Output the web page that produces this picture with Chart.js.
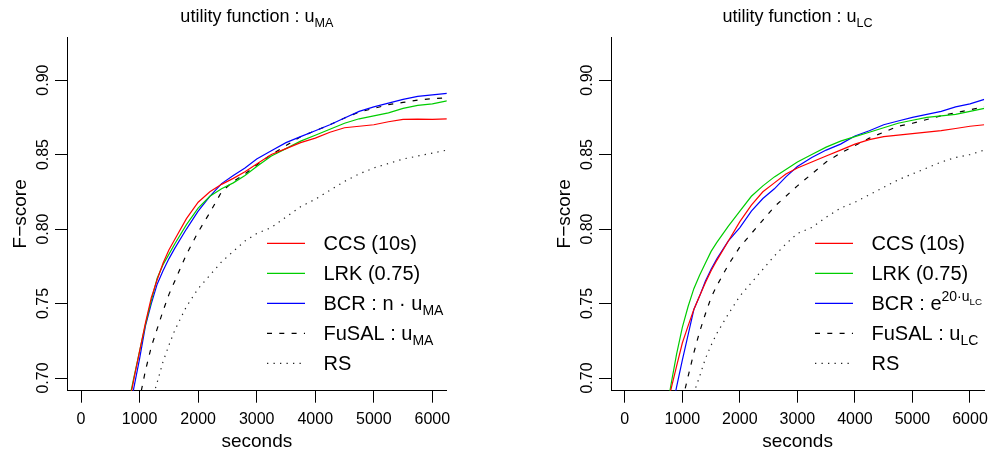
<!DOCTYPE html>
<html><head><meta charset="utf-8">
<script src="https://cdn.jsdelivr.net/npm/chart.js@4/dist/chart.umd.min.js"></script>
<style>
html,body{margin:0;padding:0;background:#fff;width:995px;height:452px;overflow:hidden}
.p{position:absolute;top:0;height:452px}
</style></head><body>
<div class="p" style="left:0;width:470px"><canvas id="c1"></canvas></div>
<div class="p" style="left:544px;width:451px"><canvas id="c2"></canvas></div>
<script>
// ---------- data ----------
const seconds = [700, 800, 900, 1000, 1100, 1200, 1300, 1400, 1500, 1600, 1800, 2000, 2200, 2400, 2600, 2800, 3000, 3250, 3500, 3750, 4000, 4250, 4500, 4750, 5000, 5250, 5500, 5750, 6000, 6250];

// utility function u_MA (left panel)
const ccsMA   = [0.655,0.678,0.699,0.718,0.737,0.754,0.766,0.777,0.786,0.793,0.807,0.818,0.825,0.830,0.834,0.8385,0.8437,0.850,0.854,0.858,0.861,0.865,0.868,0.869,0.870,0.872,0.8736,0.8738,0.8736,0.874];
const lrkMA   = [0.660,0.681,0.700,0.718,0.736,0.752,0.767,0.776,0.783,0.790,0.803,0.814,0.822,0.827,0.831,0.836,0.842,0.849,0.854,0.859,0.863,0.867,0.871,0.874,0.876,0.878,0.881,0.883,0.884,0.886];
const bcrMA   = [0.650,0.672,0.693,0.713,0.735,0.750,0.763,0.772,0.780,0.787,0.800,0.812,0.822,0.8305,0.836,0.841,0.847,0.8525,0.858,0.862,0.866,0.870,0.8745,0.879,0.882,0.8845,0.887,0.889,0.890,0.891];
const fusalMA = [0.610,0.637,0.662,0.686,0.705,0.721,0.733,0.745,0.756,0.765,0.783,0.798,0.811,0.825,0.832,0.837,0.843,0.850,0.856,0.862,0.866,0.870,0.8745,0.8785,0.881,0.8835,0.885,0.8865,0.8875,0.888];
const rsMA    = [0.600,0.620,0.640,0.655,0.670,0.684,0.697,0.711,0.722,0.732,0.748,0.760,0.769,0.778,0.785,0.792,0.797,0.801,0.808,0.815,0.820,0.826,0.832,0.837,0.841,0.844,0.847,0.849,0.851,0.853];

// utility function u_LC (right panel)
const ccsLC   = [0.675,0.692,0.708,0.7235,0.735,0.746,0.755,0.764,0.772,0.779,0.792,0.805,0.816,0.825,0.831,0.837,0.841,0.845,0.849,0.853,0.857,0.860,0.862,0.863,0.864,0.865,0.866,0.8675,0.869,0.870];
const lrkLC   = [0.672,0.695,0.716,0.734,0.748,0.760,0.769,0.777,0.785,0.791,0.802,0.812,0.822,0.829,0.835,0.840,0.845,0.850,0.855,0.859,0.862,0.865,0.868,0.871,0.873,0.875,0.876,0.877,0.879,0.881];
const bcrLC   = [0.655,0.675,0.694,0.712,0.729,0.746,0.755,0.765,0.773,0.780,0.792,0.801,0.812,0.8205,0.827,0.835,0.842,0.848,0.853,0.857,0.8625,0.866,0.870,0.8725,0.875,0.877,0.879,0.882,0.884,0.887];
const fusalLC = [0.620,0.645,0.668,0.685,0.701,0.717,0.731,0.743,0.754,0.762,0.776,0.788,0.797,0.806,0.815,0.822,0.829,0.837,0.845,0.851,0.856,0.861,0.865,0.869,0.871,0.8735,0.876,0.878,0.880,0.882];
const rsLC    = [0.600,0.625,0.647,0.663,0.678,0.690,0.701,0.713,0.722,0.730,0.743,0.755,0.764,0.773,0.782,0.790,0.797,0.801,0.808,0.814,0.818,0.823,0.828,0.833,0.837,0.841,0.845,0.848,0.850,0.853];

const xTicks = [0, 1000, 2000, 3000, 4000, 5000, 6000];
const yTicks = [0.70, 0.75, 0.80, 0.85, 0.90];
const yTickLabels = ["0.70", "0.75", "0.80", "0.85", "0.90"];
const seriesNames = ["CCS (10s)", "LRK (0.75)", "BCR", "FuSAL", "RS"];
const legendMA = ["CCS (10s)", "LRK (0.75)", "BCR : n · u_{MA}", "FuSAL : u_{MA}", "RS"];
const legendLC = ["CCS (10s)", "LRK (0.75)", "BCR : e^{20·u_{LC}}", "FuSAL : u_{LC}", "RS"];
const titleMA = "utility function : u_{MA}";
const titleLC = "utility function : u_{LC}";
const xTitle = "seconds";
const yTitle = "F\u2212score";

// ---------- styles ----------
const FONT = '"Liberation Sans", Arial, Helvetica, sans-serif';
const colors = ['#FF0000', '#00CD00', '#0000FF', '#000000', '#222222'];
const dashes = [[], [], [], [5, 7.3], [1.3, 5.2]];
const SCRIPT = 0.7;

function parseMath(s) {
  let i = 0;
  function seq() {
    const out = []; let buf = '';
    while (i < s.length) {
      const c = s[i];
      if (c === '}') break;
      if (c === '_' || c === '^') {
        if (buf) { out.push({t: buf}); buf = ''; }
        i++;
        let child;
        if (s[i] === '{') { i++; child = seq(); i++; } else { child = [{t: s[i]}]; i++; }
        out.push({k: c === '_' ? 'sub' : 'sup', c: child});
        continue;
      }
      buf += c; i++;
    }
    if (buf) out.push({t: buf});
    return out;
  }
  return seq();
}
function nodesWidth(ctx, nodes, size) {
  let w = 0;
  for (const n of nodes) {
    if (n.t !== undefined) { ctx.font = size + 'px ' + FONT; w += ctx.measureText(n.t).width; }
    else w += nodesWidth(ctx, n.c, size * SCRIPT);
  }
  return w;
}
function drawNodes(ctx, nodes, x, y, size) {
  for (const n of nodes) {
    if (n.t !== undefined) {
      ctx.font = size + 'px ' + FONT; ctx.fillText(n.t, x, y);
      x += ctx.measureText(n.t).width;
    } else {
      const dy = n.k === 'sub' ? size * 0.25 : -size * 0.45;
      x = drawNodes(ctx, n.c, x, y + dy, size * SCRIPT);
    }
  }
  return x;
}

const deco = {
  id: 'deco',
  afterDraw(chart) {
    const o = chart.options.plugins.deco;
    const ctx = chart.ctx, a = chart.chartArea, ys = chart.scales.y;
    ctx.save();
    ctx.fillStyle = '#000';
    ctx.textAlign = 'left'; ctx.textBaseline = 'alphabetic';
    // title
    const tn = parseMath(o.title);
    const tw = nodesWidth(ctx, tn, 18);
    drawNodes(ctx, tn, (a.left + a.right) / 2 - tw / 2, 22, 18);
    // y tick labels (rotated, like R las=0)
    ctx.font = '16px ' + FONT; ctx.textAlign = 'center';
    yTicks.forEach((v, i) => {
      const py = ys.getPixelForValue(v);
      ctx.save(); ctx.translate(a.left - 19.5, py); ctx.rotate(-Math.PI / 2);
      ctx.fillText(yTickLabels[i], 0, 0); ctx.restore();
    });
    // axis titles
    ctx.font = '19px ' + FONT;
    ctx.save(); ctx.translate(a.left - 41, (a.top + a.bottom) / 2); ctx.rotate(-Math.PI / 2);
    ctx.fillText(yTitle, 0, 0); ctx.restore();
    ctx.fillText(xTitle, (a.left + a.right) / 2, 447);
    // legend
    ctx.textAlign = 'left';
    o.legend.forEach((lab, i) => {
      const ds = chart.data.datasets[i];
      const yRow = 243.3 + 30 * i;
      ctx.save();
      ctx.strokeStyle = ds.borderColor; ctx.lineWidth = 1.2;
      ctx.setLineDash(ds.borderDash || []);
      ctx.beginPath(); ctx.moveTo(a.left + o.legendX, yRow); ctx.lineTo(a.left + o.legendX + 38, yRow); ctx.stroke();
      ctx.restore();
      drawNodes(ctx, parseMath(lab), a.left + o.legendX + 56.5, yRow + 7, 20);
    });
    ctx.restore();
  }
};

function makeChart(id, values, title, legend, legendX, padRight) {
  const datasets = values.map((vals, k) => ({
    label: seriesNames[k],
    data: seconds.map((s, i) => ({x: s, y: vals[i]})),
    borderColor: colors[k],
    borderDash: dashes[k],
    borderWidth: 1.2,
    pointRadius: 0,
    tension: 0,
    fill: false
  }));
  return new Chart(document.getElementById(id), {
    type: 'line',
    data: {datasets},
    options: {
      responsive: true, maintainAspectRatio: false, animation: false, devicePixelRatio: 1,
      layout: {padding: {top: 37, right: padRight, left: 0, bottom: 0}},
      plugins: {legend: {display: false}, tooltip: {enabled: false}, deco: {title, legend, legendX}},
      scales: {
        x: {
          type: 'linear', min: -240, max: 6245,
          afterBuildTicks: s => { s.ticks = xTicks.map(v => ({value: v})); },
          afterFit: s => { s.height = 61.3; },
          ticks: {font: {family: FONT, size: 16}, color: '#000', padding: 7, maxRotation: 0, callback: v => String(v)},
          grid: {drawOnChartArea: false, drawTicks: true, tickLength: 12, color: '#000', lineWidth: 1},
          border: {display: true, color: '#000', width: 1}
        },
        y: {
          type: 'linear', min: 0.6915, max: 0.9289,
          afterBuildTicks: s => { s.ticks = yTicks.map(v => ({value: v})); },
          afterFit: s => { s.width = 67; },
          ticks: {display: false},
          grid: {drawOnChartArea: false, drawTicks: true, tickLength: 12, color: '#000', lineWidth: 1},
          border: {display: true, color: '#000', width: 1}
        }
      }
    },
    plugins: [deco]
  });
}

makeChart('c1', [ccsMA, lrkMA, bcrMA, fusalMA, rsMA], titleMA, legendMA, 200, 23.3);
makeChart('c2', [ccsLC, lrkLC, bcrLC, fusalLC, rsLC], titleLC, legendLC, 204, 5.7);
</script>
</body></html>
